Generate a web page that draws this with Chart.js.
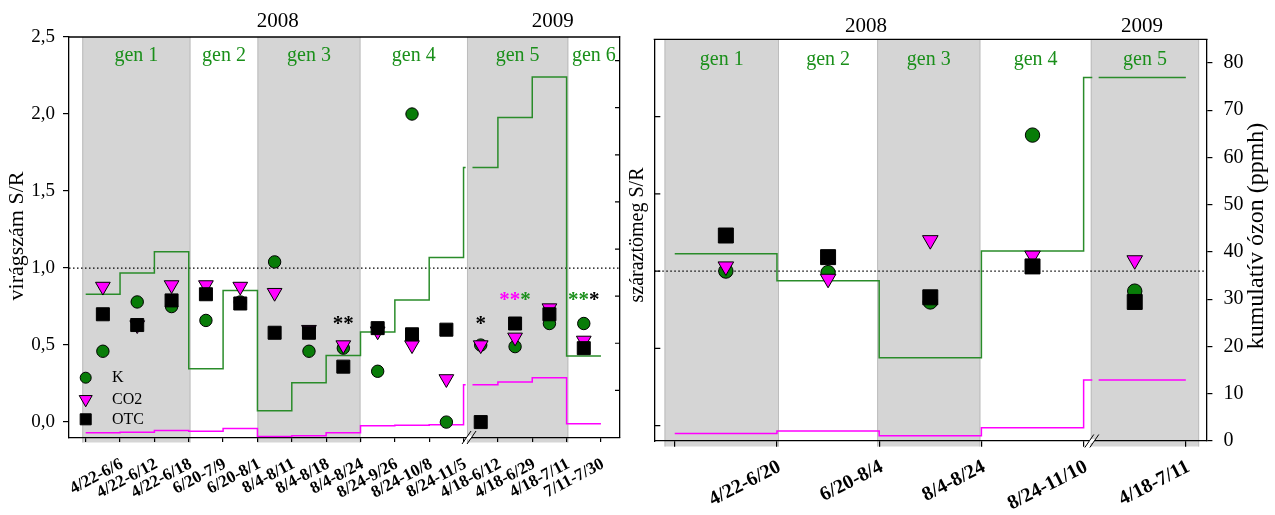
<!DOCTYPE html>
<html>
<head>
<meta charset="utf-8">
<script src="https://cdn.jsdelivr.net/npm/chart.js@4/dist/chart.umd.min.js"></script>
<style>
  html, body { margin: 0; padding: 0; background: #fff; }
  #wrap { position: relative; width: 1275px; height: 515px; }
  #wrap canvas { position: absolute; left: 0; top: 0; }
</style>
</head>
<body>
<div id="wrap">
  <canvas id="flowers" width="1275" height="515"></canvas>
  <canvas id="mass" width="1275" height="515"></canvas>
</div>
<script>
// ---------- flower number S/R by harvest interval ----------
const flowerPeriods = ['4/22-6/6', '4/22-6/12', '4/22-6/18', '6/20-7/9', '6/20-8/1',
  '8/4-8/11', '8/4-8/18', '8/4-8/24', '8/24-9/26', '8/24-10/8', '8/24-11/5',
  '4/18-6/12', '4/18-6/29', '4/18-7/11', '7/11-7/30'];
const flowerK   = [0.46, 0.78, 0.75, 0.66, 0.78, 1.04, 0.46, 0.48, 0.33, 2.00, 0.00, 0.50, 0.49, 0.64, 0.64];
const flowerCO2 = [0.88, 0.63, 0.89, 0.89, 0.88, 0.84, 0.60, 0.50, 0.59, 0.50, 0.28, 0.50, 0.55, 0.74, 0.53];
const flowerOTC = [0.70, 0.63, 0.79, 0.83, 0.77, 0.58, 0.58, 0.36, 0.61, 0.57, 0.60, 0.00, 0.64, 0.70, 0.48];
// cumulative ozone (ppmh) per interval
const flowerOzoneGreen   = [30.4, 34.9, 39.4, 14.6, 31.2, 5.7, 11.6, 17.4, 22.4, 29.2, 38.2, 57.3, 67.9, 76.5, 17.3];
const flowerOzoneMagenta = [1.0, 1.1, 1.5, 1.3, 1.9, 0.2, 0.35, 1.0, 2.5, 2.6, 2.7, 11.2, 11.8, 12.7, 2.9];
// generation boundaries along the interval axis
const flowerGenEdges = [0.4, 3.55, 5.5, 8.5, 11.6, 14.55, 16.04];
const flowerGenNames = ['gen 1', 'gen 2', 'gen 3', 'gen 4', 'gen 5', 'gen 6'];
const flowerYears = [['2008', 6.09], ['2009', 14.1]];

// ---------- dry mass S/R by generation ----------
const massPeriods = ['4/22-6/20', '6/20-8/4', '8/4-8/24', '8/24-11/10', '4/18-7/11'];
const massK   = [1.00, 0.99, 0.80, 1.88, 0.87];
const massCO2 = [1.03, 0.95, 1.20, 1.10, 1.07];
const massOTC = [1.23, 1.09, 0.83, 1.03, 0.80];
const massOzoneGreen   = [39.6, 33.9, 17.6, 40.2, 76.9];
const massOzoneMagenta = [1.6, 2.1, 1.1, 2.8, 12.9];
const massGenEdges = [0.4, 1.52, 2.48, 3.49, 4.57, 5.63];
const massGenNames = ['gen 1', 'gen 2', 'gen 3', 'gen 4', 'gen 5'];
const massYears = [['2008', 2.37], ['2009', 5.07]];

// shared tick values
const ratioTicks = [0, 0.5, 1.0, 1.5, 2.0, 2.5];
const ozoneTicks = [0, 10, 20, 30, 40, 50, 60, 70, 80];

const SERIF = '"Liberation Serif", "Times New Roman", Times, serif';
const GREEN = '#1a8f1a';
const GREEN_FILL = '#087c08';
const MAGENTA = '#ff00ff';
const BAND_FILL = '#d5d5d5';
const BAND_EDGE = '#bdbdbd';

// significance marks above intervals
const flowerStars = [
  { period: 8,  y: 0.66, parts: [['**', '#000']] },
  { period: 12, y: 0.66, parts: [['*', '#000']] },
  { period: 13, y: 0.82, parts: [['**', MAGENTA], ['*', GREEN]] },
  { period: 15, y: 0.82, parts: [['**', GREEN], ['*', '#000']] }
];

const edgesOf = n => Array.from({ length: n + 1 }, (_, i) => i + 0.5);

// step series with points at interval edges; split to leave a gap at the axis break
function stepParts(values, gap) {
  const pts = values.map((v, i) => ({ x: i + 0.5, y: v }));
  pts.push({ x: values.length + 0.5, y: values[values.length - 1] });
  const idx = pts.findIndex(p => p.x > gap[0]);
  const before = pts.slice(0, idx);
  const level = before[before.length - 1].y;
  before.push({ x: gap[0], y: level });
  const after = [{ x: gap[1], y: level }].concat(pts.slice(idx));
  return [before, after];
}

function stepDatasets(values, gap, color) {
  return stepParts(values, gap).map(part => ({
    type: 'line', data: part, yAxisID: 'oz', stepped: 'before',
    borderColor: color, borderWidth: 1.5, pointRadius: 0, fill: false, order: 10
  }));
}

function markerDataset(values, style, fill, radius, order) {
  return {
    type: 'line', showLine: false, yAxisID: 'y', order,
    data: values.map((v, i) => ({ x: i + 1, y: v })),
    pointStyle: style === 'tri' ? 'triangle' : style,
    pointRotation: style === 'tri' ? 180 : 0,
    pointRadius: radius, pointHoverRadius: radius,
    pointBackgroundColor: fill, pointBorderColor: '#000', pointBorderWidth: 1
  };
}

function drawMarker(ctx, style, x, y, r, fill) {
  ctx.beginPath();
  if (style === 'circle') {
    ctx.arc(x, y, r, 0, Math.PI * 2);
  } else if (style === 'tri') {
    const s = Math.sin(Math.PI / 3) * r;
    ctx.moveTo(x, y + r); ctx.lineTo(x - s, y - r / 2); ctx.lineTo(x + s, y - r / 2); ctx.closePath();
  } else {
    const h = Math.SQRT1_2 * r;
    ctx.rect(x - h, y - h, 2 * h, 2 * h);
  }
  ctx.fillStyle = fill; ctx.fill();
  ctx.strokeStyle = '#000'; ctx.lineWidth = 1; ctx.stroke();
}

function drawText(ctx, str, x, y, font, color, align, baseline, rot) {
  ctx.save();
  ctx.translate(x, y);
  if (rot) ctx.rotate(rot);
  ctx.font = font; ctx.fillStyle = color;
  ctx.textAlign = align || 'center'; ctx.textBaseline = baseline || 'alphabetic';
  ctx.fillText(str, 0, 0);
  ctx.restore();
}

function makeDecor(cfg) {
  return {
    id: 'decor' + cfg.key,
    beforeDraw(chart) {
      const { ctx, chartArea: a, scales: { x } } = chart;
      ctx.save();
      const e = cfg.genEdges;
      for (let g = 0; g < e.length - 1; g += 2) {
        const x0 = x.getPixelForValue(e[g]), x1 = x.getPixelForValue(e[g + 1]);
        const h = a.bottom - a.top + cfg.bandDrop;
        ctx.fillStyle = BAND_FILL;
        ctx.fillRect(x0, a.top, x1 - x0, h);
        ctx.strokeStyle = BAND_EDGE; ctx.lineWidth = 1;
        ctx.beginPath();
        ctx.moveTo(x0 + 0.5, a.top); ctx.lineTo(x0 + 0.5, a.top + h);
        ctx.moveTo(x1 - 0.5, a.top); ctx.lineTo(x1 - 0.5, a.top + h);
        ctx.stroke();
      }
      ctx.restore();
    },
    beforeDatasetsDraw(chart) {
      const { ctx, chartArea: a, scales: { y } } = chart;
      const py = y.getPixelForValue(1);
      ctx.save();
      ctx.strokeStyle = '#000'; ctx.lineWidth = 1.2; ctx.setLineDash([1.5, 2.5]);
      ctx.beginPath(); ctx.moveTo(a.left, py); ctx.lineTo(a.right, py); ctx.stroke();
      ctx.restore();
    },
    afterDraw(chart) {
      const { ctx, chartArea: a, scales } = chart;
      const x = scales.x;
      ctx.save();
      // frame top
      ctx.strokeStyle = '#000'; ctx.lineWidth = 1.3;
      ctx.beginPath(); ctx.moveTo(a.left - 0.6, a.top); ctx.lineTo(a.right + 0.6, a.top); ctx.stroke();

      // inward tick marks
      ctx.lineWidth = 1.2;
      const it = cfg.inwardTicks;
      const sc = scales[it.axis];
      ctx.beginPath();
      it.values.forEach(v => {
        const p = sc.getPixelForValue(v);
        if (it.side === 'right') { ctx.moveTo(a.right, p); ctx.lineTo(a.right - it.len, p); }
        else { ctx.moveTo(a.left, p); ctx.lineTo(a.left + it.len, p); }
      });
      ctx.stroke();

      // axis break
      const bx = x.getPixelForValue(cfg.breakAt), by = a.bottom;
      const s = 5, hx = 4.5, hy = 6.5, k = hx / hy * 2;
      ctx.fillStyle = '#fff';
      ctx.beginPath();
      ctx.moveTo(bx - s / 2 - k, by + 2); ctx.lineTo(bx - s / 2 + k, by - 2);
      ctx.lineTo(bx + s / 2 + k, by - 2); ctx.lineTo(bx + s / 2 - k, by + 2);
      ctx.closePath(); ctx.fill();
      ctx.strokeStyle = '#000'; ctx.lineWidth = 1;
      ctx.beginPath();
      [-s / 2, s / 2].forEach(o => {
        ctx.moveTo(bx + o - hx, by + hy); ctx.lineTo(bx + o + hx, by - hy);
      });
      ctx.stroke();

      // interval labels, rotated, ending at the right edge of each interval
      cfg.periods.forEach((lab, i) => {
        const px = x.getPixelForValue(i + 1.5) + cfg.xLabel.dx;
        drawText(ctx, lab, px, a.bottom + cfg.xLabel.dy, 'bold ' + cfg.xLabel.size + 'px ' + SERIF,
          '#000', 'right', 'alphabetic', -cfg.xLabel.angle * Math.PI / 180);
      });

      // generation names
      cfg.genNames.forEach((g, i) => {
        const cx = x.getPixelForValue((cfg.genEdges[i] + cfg.genEdges[i + 1]) / 2);
        drawText(ctx, g, cx, cfg.genBaseline, '20px ' + SERIF, GREEN, 'center', 'alphabetic');
      });

      // years
      cfg.years.forEach(([t, v]) => {
        drawText(ctx, t, x.getPixelForValue(v), cfg.yearBaseline, '21px ' + SERIF, '#000', 'center', 'alphabetic');
      });

      // axis titles
      cfg.titles.forEach(t => {
        drawText(ctx, t.text, t.x, t.y, t.size + 'px ' + SERIF, '#000', 'center', 'middle', -Math.PI / 2);
      });

      // significance stars
      (cfg.stars || []).forEach(st => {
        ctx.font = 'bold 21px ' + SERIF;
        const total = st.parts.reduce((w, p) => w + ctx.measureText(p[0]).width, 0);
        let sx = x.getPixelForValue(st.period) - total / 2;
        const sy = scales.y.getPixelForValue(st.y) + 10;
        st.parts.forEach(([t, c]) => {
          drawText(ctx, t, sx, sy, 'bold 21px ' + SERIF, c, 'left', 'alphabetic');
          ctx.font = 'bold 21px ' + SERIF;
          sx += ctx.measureText(t).width;
        });
      });

      // legend
      if (cfg.legend) {
        const L = cfg.legend;
        L.items.forEach((it, i) => {
          const ly = L.y[i];
          drawMarker(ctx, it.style, a.left + L.markerDx, ly, it.r, it.fill);
          drawText(ctx, it.label, a.left + L.textDx, ly, '16px ' + SERIF, '#000', 'left', 'middle');
        });
      }
      ctx.restore();
    }
  };
}

const common = {
  animation: false, responsive: false, devicePixelRatio: 1, events: [],
  plugins: { legend: { display: false }, tooltip: { enabled: false } }
};
const axisBorder = { display: true, color: '#000', width: 1.3 };

// ---------- left chart: flowers ----------
const flowerEdges = edgesOf(flowerPeriods.length);
const flowerGap = [11.56, 11.76];
new Chart(document.getElementById('flowers'), {
  type: 'line',
  data: {
    datasets: [
      markerDataset(flowerOTC, 'rect', '#000', 9.2, 1),
      markerDataset(flowerCO2, 'tri', MAGENTA, 8.5, 2),
      markerDataset(flowerK, 'circle', GREEN_FILL, 6.2, 3),
      ...stepDatasets(flowerOzoneGreen, flowerGap, '#2a8c2a'),
      ...stepDatasets(flowerOzoneMagenta, flowerGap, MAGENTA)
    ]
  },
  options: Object.assign({}, common, {
    layout: { padding: { left: 0, top: 37, right: 654.5, bottom: 0 } },
    scales: {
      x: {
        type: 'linear', position: 'bottom', min: 0.014, max: 16.04,
        afterBuildTicks: s => { s.ticks = flowerEdges.map(v => ({ value: v })); },
        ticks: { display: false },
        grid: { display: true, drawOnChartArea: false, drawTicks: true, tickLength: 4.5, color: '#000', lineWidth: 1.2 },
        border: axisBorder,
        afterFit: s => { s.height = 77.5; }
      },
      y: {
        type: 'linear', position: 'left', min: -0.1, max: 2.5,
        afterBuildTicks: s => { s.ticks = ratioTicks.map(v => ({ value: v })); },
        ticks: { font: { family: SERIF, size: 19 }, color: '#000', padding: 8,
          callback: v => v.toFixed(1).replace('.', ',') },
        grid: { drawOnChartArea: false, tickLength: 6, color: '#000', lineWidth: 1.2 },
        border: axisBorder,
        afterFit: s => { s.width = 69; }
      },
      oz: {
        type: 'linear', position: 'right', min: 0, max: 85,
        ticks: { display: false },
        grid: { display: false },
        border: axisBorder,
        afterFit: s => { s.width = 1; }
      }
    }
  }),
  plugins: [makeDecor({
    key: 'Flowers', genEdges: flowerGenEdges, genNames: flowerGenNames, bandDrop: 5,
    periods: flowerPeriods, years: flowerYears, genBaseline: 61, yearBaseline: 26.7,
    breakAt: 11.66,
    inwardTicks: { axis: 'oz', side: 'right', len: 4.5, values: ozoneTicks.slice(1) },
    xLabel: { size: 17, angle: 28, dx: 4, dy: 29.5 },
    titles: [{ text: 'virágszám S/R', x: 17, y: 236, size: 22 }],
    stars: flowerStars,
    legend: {
      markerDx: 16.7, textDx: 43, y: [377.7, 399.3, 419.3],
      items: [
        { label: 'K', style: 'circle', r: 5.5, fill: GREEN_FILL },
        { label: 'CO2', style: 'tri', r: 7.5, fill: MAGENTA },
        { label: 'OTC', style: 'rect', r: 7.8, fill: '#000' }
      ]
    }
  })]
});

// ---------- right chart: dry mass ----------
const massEdges = edgesOf(massPeriods.length);
const massGap = [4.585, 4.647];
new Chart(document.getElementById('mass'), {
  type: 'line',
  data: {
    datasets: [
      markerDataset(massOTC, 'rect', '#000', 10.6, 1),
      markerDataset(massCO2, 'tri', MAGENTA, 9, 2),
      markerDataset(massK, 'circle', GREEN_FILL, 7.2, 3),
      ...stepDatasets(massOzoneGreen, massGap, '#2a8c2a'),
      ...stepDatasets(massOzoneMagenta, massGap, MAGENTA)
    ]
  },
  options: Object.assign({}, common, {
    layout: { padding: { left: 0, top: 39.3, right: 0, bottom: 0 } },
    scales: {
      x: {
        type: 'linear', position: 'bottom', min: 0.3, max: 5.706,
        afterBuildTicks: s => { s.ticks = massEdges.map(v => ({ value: v })); },
        ticks: { display: false },
        grid: { display: true, drawOnChartArea: false, drawTicks: true, tickLength: 5.7, color: '#000', lineWidth: 1.2 },
        border: axisBorder,
        afterFit: s => { s.height = 74; }
      },
      y: {
        type: 'linear', position: 'left', min: -0.1, max: 2.5,
        ticks: { display: false },
        grid: { display: false },
        border: axisBorder,
        afterFit: s => { s.width = 654.3; }
      },
      oz: {
        type: 'linear', position: 'right', min: 0, max: 85,
        afterBuildTicks: s => { s.ticks = ozoneTicks.map(v => ({ value: v })); },
        ticks: { font: { family: SERIF, size: 20 }, color: '#000', padding: 11 },
        grid: { drawOnChartArea: false, tickLength: 5.5, color: '#000', lineWidth: 1.2 },
        border: axisBorder,
        afterFit: s => { s.width = 68.1; }
      }
    }
  }),
  plugins: [makeDecor({
    key: 'Mass', genEdges: massGenEdges, genNames: massGenNames, bandDrop: 5.5,
    periods: massPeriods, years: massYears, genBaseline: 64.5, yearBaseline: 31.7,
    breakAt: 4.58,
    inwardTicks: { axis: 'y', side: 'left', len: 6, values: ratioTicks.slice(0, 5) },
    xLabel: { size: 20, angle: 27, dx: 5, dy: 29.5 },
    titles: [
      { text: 'száraztömeg S/R', x: 638, y: 235, size: 20 },
      { text: 'kumulatív ózon (ppmh)', x: 1257, y: 236, size: 24 }
    ]
  })]
});
</script>
</body>
</html>
